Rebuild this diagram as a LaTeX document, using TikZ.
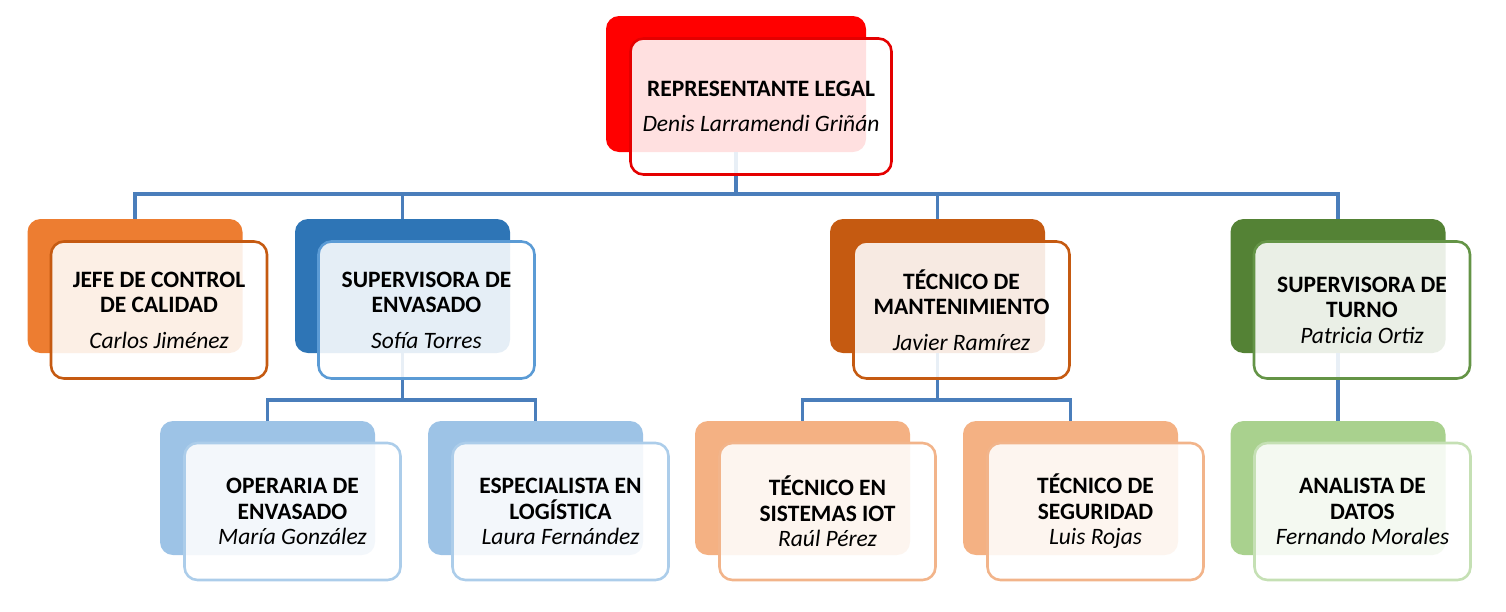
\documentclass[tikz,border=0pt]{standalone}
\usepackage{fontspec}
\setmainfont{Carlito}
\usetikzlibrary{positioning,calc}
\definecolor{legalcolor}{RGB}{255,0,0}
\definecolor{legalline}{RGB}{228,0,0}
\definecolor{calidadcolor}{RGB}{237,125,49}
\definecolor{calidadline}{RGB}{197,90,17}
\definecolor{envasecolor}{RGB}{46,117,182}
\definecolor{envaseline}{RGB}{91,155,213}
\definecolor{mantcolor}{RGB}{197,90,17}
\definecolor{turnocolor}{RGB}{84,130,53}
\definecolor{turnoline}{RGB}{100,148,70}
\definecolor{envlight}{RGB}{157,195,230}
\definecolor{envlightline}{RGB}{172,205,234}
\definecolor{mantlight}{RGB}{244,177,131}
\definecolor{mantlightline}{RGB}{242,180,138}
\definecolor{turnolight}{RGB}{169,209,142}
\definecolor{turnolightline}{RGB}{197,224,180}
\definecolor{linkcolor}{RGB}{74,126,187}

\begin{document}
\begin{tikzpicture}[
    x=1pt, y=-1pt,
    back/.style={rectangle, rounded corners=13pt, minimum width=215pt, minimum height=134pt, inner sep=0pt},
    front/.style={rectangle, draw, line width=2.6pt, rounded corners=13pt, fill=white, fill opacity=0.88, text opacity=1,
        minimum width=216pt, minimum height=137pt, align=center, text=black, font=\fontsize{23.5}{25.5}\selectfont},
    link/.style={draw=linkcolor, line width=3.5pt}
]
\useasboundingbox (0,0) rectangle (1506,611);

% Back boxes
\node[back, fill=legalcolor, minimum width=260pt, minimum height=136pt] (legalb) at (736,84) {};
\node[back, fill=calidadcolor] (calidadb) at (135,286) {};
\node[back, fill=envasecolor] (envasadob) at (402.5,286) {};
\node[back, fill=mantcolor] (mantb) at (937.5,286) {};
\node[back, fill=turnocolor] (turnob) at (1338,286) {};
\node[back, fill=envlight] (operariab) at (267.5,488) {};
\node[back, fill=envlight] (logisticab) at (535.5,488) {};
\node[back, fill=mantlight] (iotb) at (802.5,488) {};
\node[back, fill=mantlight] (seguridadb) at (1070.5,488) {};
\node[back, fill=turnolight] (analistab) at (1338,488) {};

% Buses
\coordinate (bus1) at (0,194);
\coordinate (bus2) at (0,400);

% Links
\foreach \child in {calidadb, envasadob, mantb, turnob} {
    \draw[link] (legalb.south) -- (legalb.south |- bus1) -| (\child.north);
}
\foreach \source/\dest in {envasadob/operariab, envasadob/logisticab, mantb/iotb, mantb/seguridadb} {
    \draw[link] (\source.south) -- (\source.south |- bus2) -| (\dest.north);
}
\draw[link] (turnob.south) -- (analistab.north);

% Front boxes
\node[front, draw=legalline, minimum width=261pt, minimum height=136pt, xshift=25pt, yshift=-22.5pt] (legal) at (legalb)
    {\textbf{REPRESENTANTE LEGAL}\\[9.5pt]\textit{Denis Larramendi Griñán}};
\node[front, draw=calidadline, xshift=24pt, yshift=-24pt] (calidad) at (calidadb)
    {\textbf{JEFE DE CONTROL}\\\textbf{DE CALIDAD}\\[10pt]\textit{Carlos Jiménez}};
\node[front, draw=envaseline, xshift=24pt, yshift=-24pt] (envasado) at (envasadob)
    {\textbf{SUPERVISORA DE}\\\textbf{ENVASADO}\\[10pt]\textit{Sofía Torres}};
\node[front, draw=mantcolor, xshift=24pt, yshift=-24pt] (mant) at (mantb)
    {\textbf{TÉCNICO DE}\\\textbf{MANTENIMIENTO}\\[10pt]\textit{Javier Ramírez}};
\node[front, draw=turnoline, xshift=24pt, yshift=-24pt] (turno) at (turnob)
    {\textbf{SUPERVISORA DE}\\\textbf{TURNO}\\\textit{Patricia Ortiz}};
\node[front, draw=envlightline, xshift=25pt, yshift=-23.5pt] (operaria) at (operariab)
    {\textbf{OPERARIA DE}\\\textbf{ENVASADO}\\\textit{María González}};
\node[front, draw=envlightline, xshift=25pt, yshift=-23.5pt] (logistica) at (logisticab)
    {\textbf{ESPECIALISTA EN}\\\textbf{LOGÍSTICA}\\\textit{Laura Fernández}};
\node[front, draw=mantlightline, xshift=25pt, yshift=-23.5pt] (iot) at (iotb)
    {\textbf{TÉCNICO EN}\\\textbf{SISTEMAS IOT}\\\textit{Raúl Pérez}};
\node[front, draw=mantlightline, xshift=25pt, yshift=-23.5pt] (seguridad) at (seguridadb)
    {\textbf{TÉCNICO DE}\\\textbf{SEGURIDAD}\\\textit{Luis Rojas}};
\node[front, draw=turnolightline, xshift=24.5pt, yshift=-23.5pt] (analista) at (analistab)
    {\textbf{ANALISTA DE}\\\textbf{DATOS}\\\textit{Fernando Morales}};

\end{tikzpicture}
\end{document}
